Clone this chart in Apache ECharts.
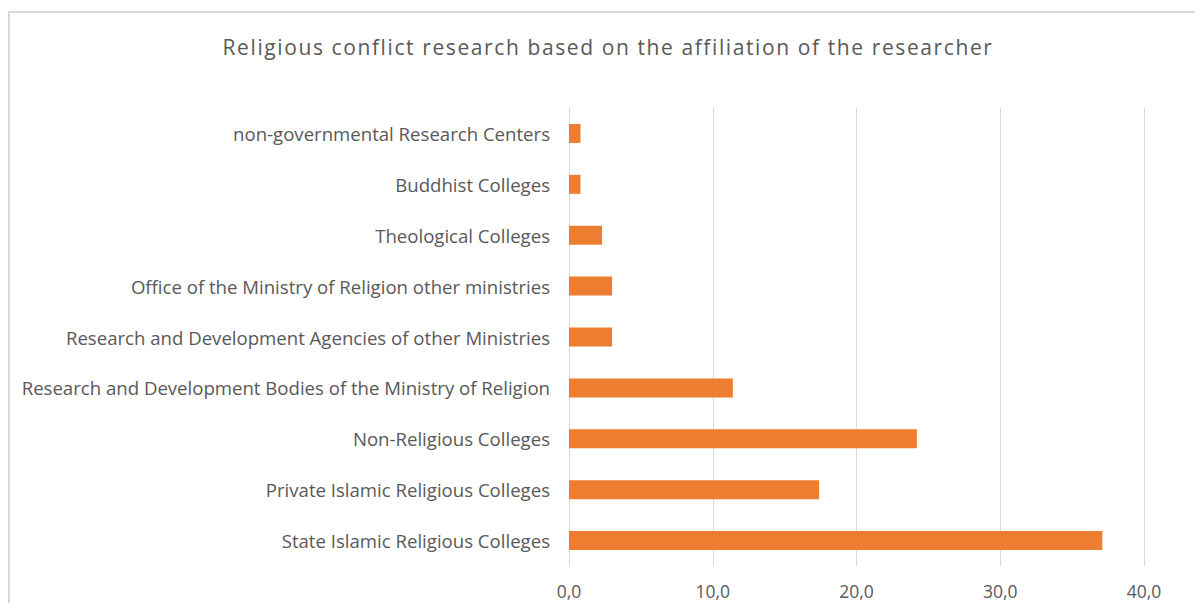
<!DOCTYPE html>
<html>
<head>
<meta charset="utf-8">
<script src="https://cdn.jsdelivr.net/npm/echarts@6/dist/echarts.min.js"></script>
<style>
  html, body { margin: 0; padding: 0; background: #fff; }
  #chart { width: 1195px; height: 603px; }
</style>
</head>
<body>
<div id="chart"></div>
<script>
// Share of religious conflict studies by the researcher's affiliation (%)
const categories = [
  'State Islamic Religious Colleges',
  'Private Islamic Religious Colleges',
  'Non-Religious Colleges',
  'Research and Development Bodies of the Ministry of Religion',
  'Research and Development Agencies of other Ministries',
  'Office of the Ministry of Religion other ministries',
  'Theological Colleges',
  'Buddhist Colleges',
  'non-governmental Research Centers'
];
const shares = [37.1, 17.4, 24.2, 11.4, 3.0, 3.0, 2.3, 0.8, 0.8];
const tickValues = [0, 10, 20, 30, 40];
const titleText = 'Religious conflict research based on the affiliation of the researcher';

const FONT = '"Open Sans", sans-serif';
const TEXT = '#595959';

const chart = echarts.init(document.getElementById('chart'), null, { renderer: 'svg' });
chart.setOption({
  backgroundColor: '#ffffff',
  animation: false,
  graphic: [{
    type: 'rect',
    shape: { x: 9, y: 12, width: 1300, height: 700 },
    style: { fill: 'none', stroke: '#d9d9d9', lineWidth: 2 },
    silent: true,
    z: -1
  }],
  title: {
    text: titleText,
    left: 603,
    top: 31,
    textAlign: 'center',
    textStyle: { fontFamily: FONT, fontSize: 21, fontWeight: 'normal', color: TEXT }
  },
  grid: { left: 569, right: 51, top: 108, bottom: 37, containLabel: false },
  xAxis: {
    type: 'value',
    min: tickValues[0],
    max: tickValues[tickValues.length - 1],
    interval: 10,
    axisLine: { show: false },
    axisTick: { show: false },
    splitLine: { show: true, lineStyle: { color: '#d9d9d9', width: 1 } },
    axisLabel: {
      color: TEXT, fontFamily: FONT, fontSize: 17.5, lineHeight: 17, margin: 16,
      formatter: v => v.toFixed(1).replace('.', ',')
    }
  },
  yAxis: {
    type: 'category',
    data: categories,
    axisLine: { show: true, lineStyle: { color: '#d9d9d9', width: 1 } },
    axisTick: { show: false },
    axisLabel: { color: TEXT, fontFamily: FONT, fontSize: 18.6, margin: 19 }
  },
  series: [{
    type: 'bar',
    data: shares,
    barWidth: 19,
    itemStyle: { color: '#ED7D31' }
  }]
});

// Open up the title's tracking a little
document.querySelectorAll('#chart text').forEach(t => {
  if (t.textContent === titleText) t.setAttribute('letter-spacing', '1.6');
});
</script>
</body>
</html>
